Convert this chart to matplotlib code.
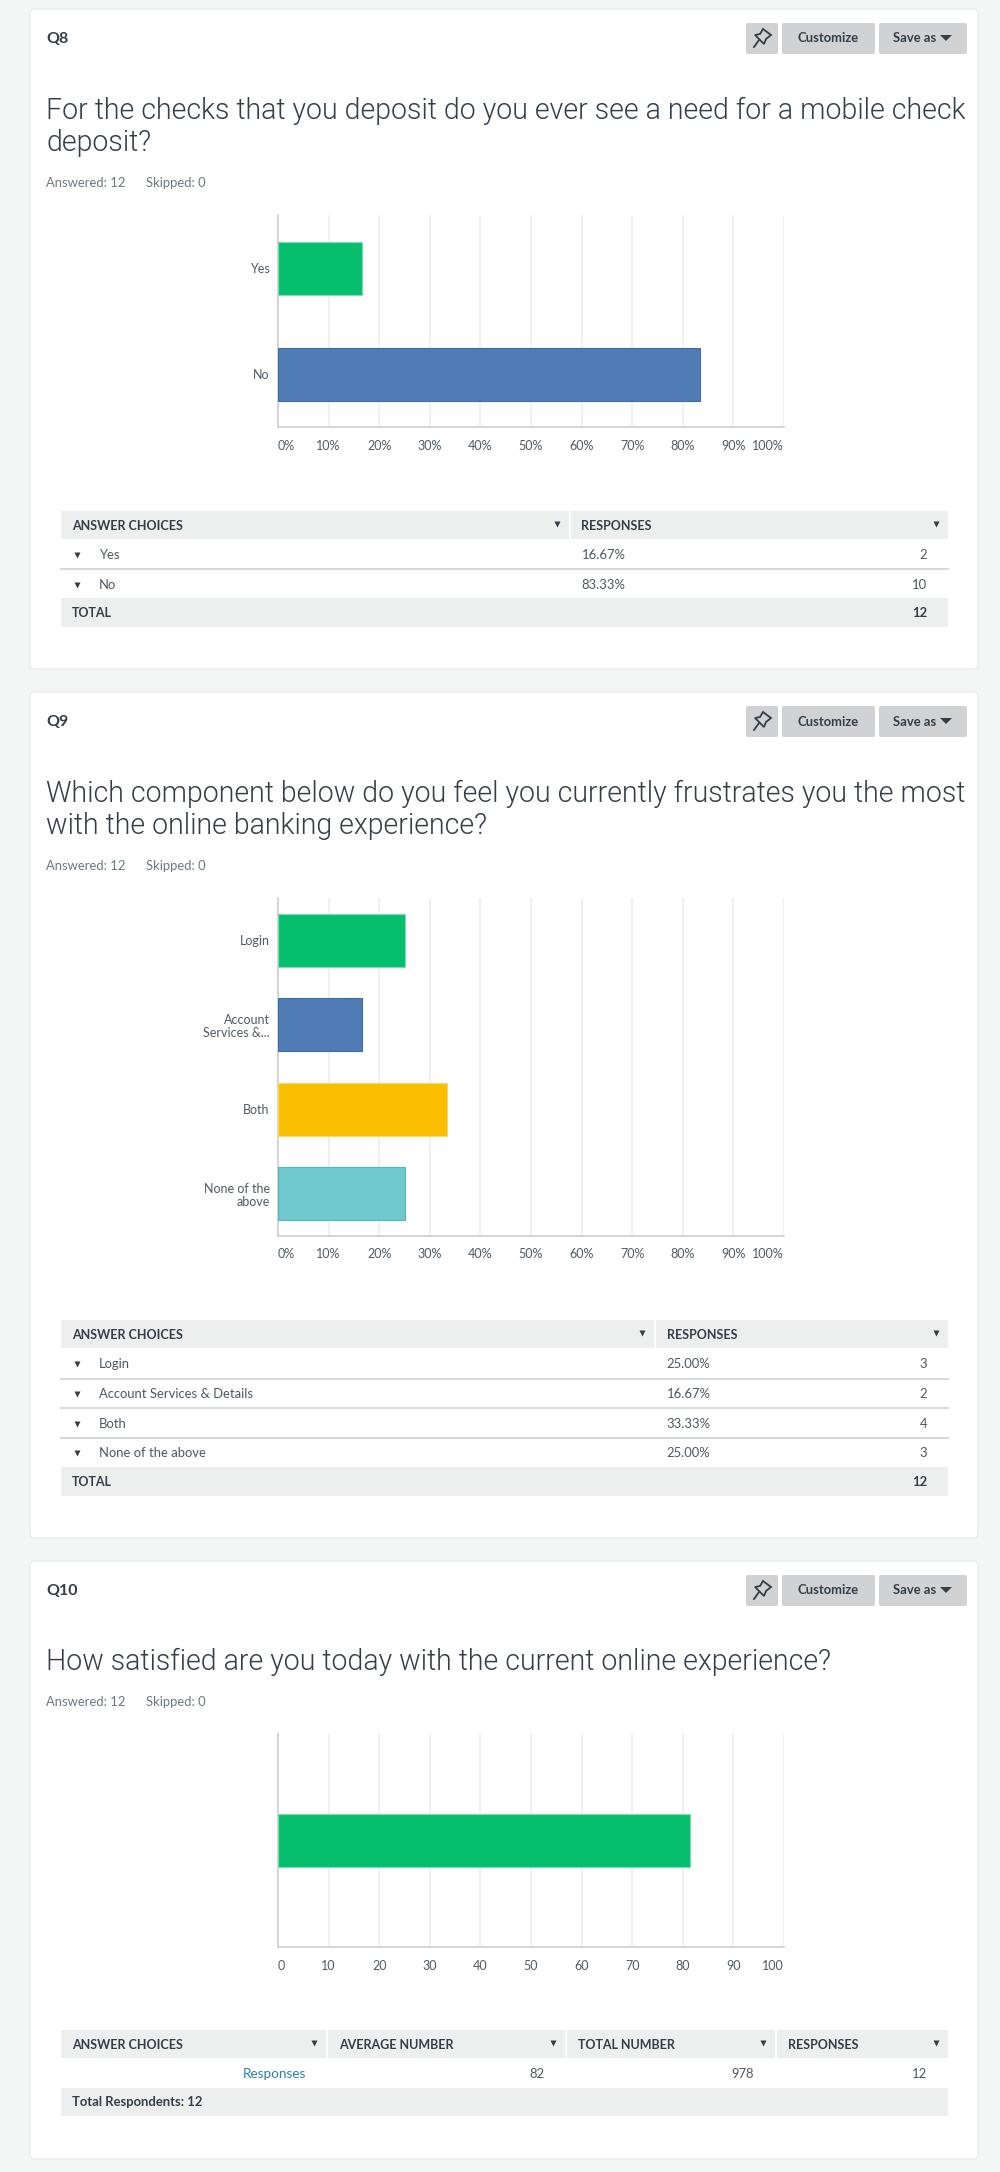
#!/usr/bin/env python3
import matplotlib
matplotlib.use('Agg')
import matplotlib.pyplot as plt
from matplotlib.patches import FancyBboxPatch, Rectangle, Polygon
from matplotlib import font_manager

# chart data
q8_names = ['Yes', 'No']
q8_values = [16.67, 83.33]
q8_colors = ['#05bf6e', '#507cb6']
q8_edges = ['#7fdcb0', '#3f6cab']

q9_names = ['Login', 'Account\nServices &...', 'Both', 'None of the\nabove']
q9_values = [25.00, 16.67, 33.33, 25.00]
q9_colors = ['#05bf6e', '#507cb6', '#fabd00', '#6fc9cf']
q9_edges = ['#7fdcb0', '#3f6cab', '#fcd766', '#55b5bc']

q10_names = ['']
q10_values = [81.5]
q10_colors = ['#05bf6e']
q10_edges = ['#7fdcb0']

pct_ticks = ['0%', '10%', '20%', '30%', '40%', '50%', '60%', '70%', '80%', '90%', '100%']
num_ticks = ['0', '10', '20', '30', '40', '50', '60', '70', '80', '90', '100']
tick_pos = [0, 10, 20, 30, 40, 50, 60, 70, 80, 90, 100]

q8_rows = [['Yes', '16.67%', '2'], ['No', '83.33%', '10']]
q9_rows = [['Login', '25.00%', '3'], ['Account Services & Details', '16.67%', '2'],
           ['Both', '33.33%', '4'], ['None of the above', '25.00%', '3']]

W, H = 1000, 2172
INK = '#333e48'
GREY = '#6b787f'
BAND = '#edeeee'
plt.rcParams['font.family'] = ['Lato', 'DejaVu Sans']


def pt(px):
    return px * 0.72


fig = plt.figure(figsize=(W / 100, H / 100), dpi=100, facecolor='#f4f6f5')
bg = fig.add_axes([0, 0, 1, 1])
bg.set_xlim(0, W)
bg.set_ylim(H, 0)
bg.axis('off')


def tri(x, y, size=5):
    bg.plot([x], [y], marker='v', ms=size, color=INK, mec='none', zorder=5)


def card(top, bottom, name, title_lines, y_title):
    bg.add_patch(FancyBboxPatch((30, top), 948, bottom - top, boxstyle='round,pad=0,rounding_size=5',
                                fc='white', ec='#e9ecec', lw=1))
    bg.text(46, top + 30, name, fontsize=pt(16), color=INK, weight='bold', va='center')
    # buttons
    by = top + 14
    for x0, x1 in [(746, 778), (782, 875), (879, 967)]:
        bg.add_patch(FancyBboxPatch((x0, by), x1 - x0, 31, boxstyle='round,pad=0,rounding_size=2',
                                    fc='#d0d2d3', ec='none'))
    bg.text(828, by + 15.5, 'Customize', fontsize=pt(13), color=INK, weight='bold', ha='center', va='center')
    bg.text(893, by + 15.5, 'Save as', fontsize=pt(13), color=INK, weight='bold', va='center')
    bg.add_patch(Polygon([(940, by + 12), (952, by + 12), (946, by + 18)], fc=INK, ec='none'))
    # pin icon
    cx, cy = 762, by + 15
    bg.add_patch(Polygon([(cx + 1, cy - 9), (cx + 9, cy - 3), (cx + 4, cy + 1), (cx + 2, cy + 6), (cx - 7, cy - 3),
                          (cx - 2, cy - 4)], fc='none', ec=INK, lw=1.3))
    bg.plot([cx - 3, cx - 8], [cy + 2, cy + 9], color=INK, lw=1.3)
    for i, line in enumerate(title_lines):
        bg.text(46, y_title + i * 32, line, fontsize=pt(28.5), color=INK, family='Roboto', weight=300, va='center')
    ya = y_title + len(title_lines) * 32 + 8 if len(title_lines) > 1 else y_title + 40
    bg.text(46, ya, 'Answered: 12', fontsize=pt(13), color=GREY, va='center')
    bg.text(146, ya, 'Skipped: 0', fontsize=pt(13), color=GREY, va='center')


def chart(top, bottom, names, values, colors, edges, ticks, bar_h):
    ax = fig.add_axes([278 / W, 1 - bottom / H, (784 - 278) / W, (bottom - top) / H])
    ax.patch.set_alpha(0)
    pos = list(range(len(names)))
    ax.barh(pos, values, height=bar_h, color=colors, edgecolor=edges, linewidth=0.8, zorder=3)
    ax.set_xlim(0, 100)
    ax.set_ylim(len(names) - 0.5, -0.5)
    ax.set_xticks(tick_pos)
    ax.set_xticklabels(ticks)
    ax.set_yticks(pos)
    ax.set_yticklabels(names, linespacing=1.1)
    ax.tick_params(length=0, labelcolor='#4f5a63', labelsize=pt(12.5))
    ax.tick_params(axis='x', pad=9)
    ax.tick_params(axis='y', pad=6)
    labels = ax.get_xticklabels()
    labels[0].set_ha('left')
    labels[-1].set_ha('right')
    ax.grid(axis='x', color='#eceded', lw=1.2, zorder=0)
    ax.set_axisbelow(True)
    for s in ['top', 'right']:
        ax.spines[s].set_visible(False)
    for s in ['left', 'bottom']:
        ax.spines[s].set_color('#d0d2d3')
        ax.spines[s].set_linewidth(1.3)
    return ax


def head(y0, y1, x0=61, x1=948):
    bg.add_patch(Rectangle((x0, y0), x1 - x0, y1 - y0, fc=BAND, ec='none'))


def table2(y_head, col_x, rows, row_ys, sep_ys, y_total):
    head(y_head, y_head + 28)
    bg.plot([col_x, col_x], [y_head, y_head + 28], color='white', lw=1.2)
    bg.text(72, y_head + 15, 'ANSWER CHOICES', fontsize=pt(12.5), color=INK, weight='bold', va='center')
    bg.text(col_x + 11.5, y_head + 15, 'RESPONSES', fontsize=pt(12.5), color=INK, weight='bold', va='center')
    tri(col_x - 13, y_head + 12.5)
    tri(936, y_head + 12.5)
    for row, y in zip(rows, row_ys):
        tri(77, y)
        bg.text(99, y, row[0], fontsize=pt(13), color='#4c5760', va='center')
        bg.text(col_x + 11.5, y, row[1], fontsize=pt(13), color='#4c5760', va='center')
        bg.text(927, y, row[2], fontsize=pt(13), color='#4c5760', va='center', ha='right')
    for y in sep_ys:
        bg.plot([61, 948], [y, y], color='#d7d9da', lw=1.5)
    head(y_total, y_total + 28.5)
    bg.text(72, y_total + 15, 'TOTAL', fontsize=pt(12.5), color=INK, weight='bold', va='center')
    bg.text(927, y_total + 15, '12', fontsize=pt(13), color=INK, weight='bold', va='center', ha='right')


# Q8
card(9, 669, 'Q8', ['For the checks that you deposit do you ever see a need for a mobile check', 'deposit?'], 111)
chart(215, 427, q8_names, q8_values, q8_colors, q8_edges, pct_ticks, 0.5)
table2(511, 570, q8_rows, [555, 585], [569], 598)

# Q9
card(692, 1538, 'Q9', ['Which component below do you feel you currently frustrates you the most',
                       'with the online banking experience?'], 794)
chart(898, 1236, q9_names, q9_values, q9_colors, q9_edges, pct_ticks, 0.627)
table2(1320, 655, q9_rows, [1364, 1394, 1424, 1453], [1379, 1408, 1438], 1467)

# Q10
card(1561, 2159, 'Q10', ['How satisfied are you today with the current online experience?'], 1662)
chart(1734, 1947, q10_names, q10_values, q10_colors, q10_edges, num_ticks, 0.25)
head(2030, 2058)
for x in [327, 566, 776]:
    bg.plot([x, x], [2030, 2058], color='white', lw=1.2)
for x, s in [(72, 'ANSWER CHOICES'), (339, 'AVERAGE NUMBER'), (578, 'TOTAL NUMBER'), (788, 'RESPONSES')]:
    bg.text(x, 2045, s, fontsize=pt(12.5), color=INK, weight='bold', va='center')
for x in [314, 553, 763, 936]:
    tri(x, 2042.5)
bg.text(306, 2074, 'Responses', fontsize=pt(13.5), color='#2b7fb0', va='center', ha='right')
for x, s in [(545, '82'), (754, '978'), (927, '12')]:
    bg.text(x, 2074, s, fontsize=pt(13), color='#4c5760', va='center', ha='right')
head(2088, 2116)
bg.text(72, 2102, 'Total Respondents: 12', fontsize=pt(13), color=INK, weight='bold', va='center')

fig.savefig('out.png', dpi=100, facecolor=fig.get_facecolor())
